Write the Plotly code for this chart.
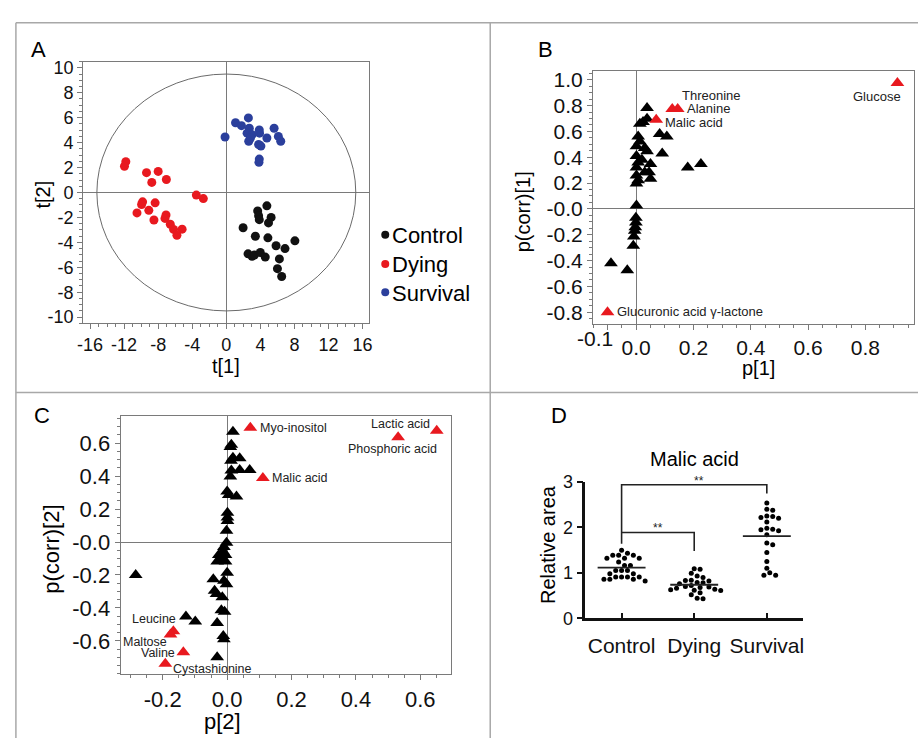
import numpy as np
import plotly.graph_objects as go

# ---------------- Panel A : PCA score plot ----------------
control_t1 = [4.76, 3.68, 3.79, 3.87, 5.26, 4.95, 1.97, 3.41, 4.88, 8.05, 5.84, 6.89, 2.55, 3.02, 3.29, 3.99, 4.57, 6.23, 6.00, 6.50]
control_t2 = [-1.07, -1.48, -1.87, -2.18, -2.00, -2.44, -2.83, -3.51, -3.64, -3.88, -4.27, -4.50, -4.92, -5.12, -5.02, -4.81, -5.18, -5.33, -6.11, -6.74]
dying_t1 = [-11.80, -11.96, -9.37, -8.00, -8.75, -7.04, -3.52, -2.70, -9.83, -9.95, -8.36, -10.49, -9.10, -8.50, -7.08, -7.20, -6.58, -6.19, -5.19, -5.80]
dying_t2 = [2.47, 2.10, 1.59, 1.69, 0.81, 1.04, -0.21, -0.49, -0.75, -0.96, -0.83, -1.64, -1.43, -2.21, -1.80, -2.08, -2.55, -2.96, -2.94, -3.43]
survival_t1 = [-0.15, 1.08, 1.78, 2.59, 2.70, 2.44, 3.02, 2.63, 3.87, 3.90, 4.76, 5.61, 6.11, 6.39, 3.79, 4.06, 3.87, 3.83, 2.83]
survival_t2 = [4.45, 5.59, 5.36, 5.98, 5.15, 4.76, 4.63, 4.11, 5.02, 4.76, 4.37, 5.15, 4.50, 4.11, 3.85, 3.72, 2.68, 2.42, 4.37]
hotelling_t1 = 15.2
hotelling_t2 = 9.5
group_names = ["Control", "Dying", "Survival"]
group_colors = ["#111111", "#e8191f", "#2b3f9c"]

# ---------------- Panel B : S-plot component 1 ----------------
b_p1 = [0.038, 0.024, 0.038, 0.013, 0.082, 0.107, 0.091, 0.180, 0.226,
        0.007, 0.013, 0.001, 0.030, 0.038, 0.001, 0.007, 0.001, 0.050, 0.045,
        0.001, 0.007, 0.050, 0.001, 0.030, 0.020, 0.001,
        -0.001, -0.001, -0.003, -0.005, -0.008, -0.010, -0.088, -0.031]
b_pcorr1 = [0.781, 0.673, 0.698, 0.660, 0.580, 0.560, 0.430, 0.321, 0.347,
            0.560, 0.522, 0.485, 0.472, 0.447, 0.409, 0.359, 0.321, 0.347, 0.283,
            0.259, 0.221, 0.234, 0.196, 0.283, 0.380, 0.027,
            -0.068, -0.106, -0.143, -0.169, -0.214, -0.286, -0.420, -0.475]
b_names = ["Glucose", "Threonine", "Alanine", "Malic acid", "Glucuronic acid \u03b3-lactone"]
b_red_p1 = [0.912, 0.126, 0.145, 0.070, -0.100]
b_red_pcorr1 = [0.975, 0.773, 0.773, 0.690, -0.800]

# ---------------- Panel C : S-plot component 2 ----------------
c_p2 = [0.018, 0.013, 0.010, 0.018, 0.039, 0.012, 0.013, 0.039, 0.070, 0.010,
        0.000, 0.005, 0.029, 0.001, 0.001, 0.001, -0.002, -0.002, -0.012,
        -0.010, -0.026, -0.005, -0.031, -0.005, -0.018, 0.000, -0.043, -0.010,
        -0.002, -0.039, -0.033, -0.015, -0.018, -0.008, -0.031, -0.012, -0.010,
        -0.031, -0.128, -0.099, -0.284]
c_pcorr2 = [0.670, 0.591, 0.576, 0.512, 0.508, 0.493, 0.434, 0.437, 0.437, 0.398,
            0.306, 0.286, 0.276, 0.177, 0.148, 0.128, 0.069, -0.004, -0.059,
            -0.030, -0.079, -0.079, -0.118, -0.118, -0.110, -0.187, -0.226, -0.236,
            -0.256, -0.296, -0.315, -0.335, -0.414, -0.423, -0.492, -0.571, -0.591,
            -0.699, -0.453, -0.483, -0.201]
c_names = ["Myo-inositol", "Lactic acid", "Phosphoric acid", "Malic acid",
           "Leucine", "Maltose", "Valine", "Cystashionine"]
c_red_p2 = [0.072, 0.651, 0.531, 0.111, -0.167, -0.176, -0.136, -0.192]
c_red_pcorr2 = [0.694, 0.676, 0.636, 0.388, -0.542, -0.562, -0.670, -0.739]

# ---------------- Panel D : Malic acid relative area ----------------
d_control = [1.50, 1.43, 1.39, 1.39, 1.39, 1.32, 1.32, 1.32, 1.24, 1.16, 1.16, 1.05,
             1.05, 1.05, 0.98, 0.98, 0.91, 0.91, 0.91, 0.91, 0.86, 0.86, 0.86, 0.82]
d_dying = [1.09, 1.08, 0.99, 0.93, 0.90, 0.84, 0.83, 0.82, 0.79, 0.78, 0.76, 0.72,
           0.70, 0.69, 0.68, 0.66, 0.64, 0.63, 0.62, 0.61, 0.56, 0.52, 0.44, 0.43]
d_survival = [2.54, 2.40, 2.38, 2.25, 2.24, 2.22, 2.20, 2.12, 1.98, 1.96, 1.95,
              1.93, 1.84, 1.66, 1.62, 1.45, 1.25, 1.10, 1.00, 0.95, 0.95]
d_brackets = [  # (x_left, x_right, y_bar, y_left_end, y_right_end)
    (0, 2, 2.94, 1.64, 2.75),
    (0, 1, 1.89, 1.89, 1.48),
]
d_stars = [(1.07, 2.94, "**"), (0.5, 1.89, "**")]

W, H = 921, 748
SANS = "Liberation Sans, Arial, sans-serif"
GRAY = "#7a7a7a"


def px(x):
    return x / W


def py(y):
    return 1 - y / H


def beeswarm(vals, center, x_scale=73.3, y_scale=46.7, d=5.4):
    vals = np.asarray(vals, dtype=float)
    order = np.argsort(-vals)
    placed = []
    xs = np.zeros(len(vals))
    for i in order:
        yy = vals[i] * y_scale
        k = 0
        while True:
            cands = [0.0] if k == 0 else [k * d * 0.55, -k * d * 0.55]
            ok = None
            for c in cands:
                if all((c - a) ** 2 + (yy - b) ** 2 >= d * d for a, b in placed):
                    ok = c
                    break
            if ok is not None:
                placed.append((ok, yy))
                xs[i] = center + ok / x_scale
                break
            k += 1
    return xs


fig = go.Figure()

# ---- Panel A traces
for name, col, tx, ty in zip(group_names, group_colors,
                             [control_t1, dying_t1, survival_t1],
                             [control_t2, dying_t2, survival_t2]):
    fig.add_trace(go.Scatter(x=tx, y=ty, mode="markers", name=name, showlegend=False,
                             marker=dict(color=col, size=9, line=dict(width=0)),
                             xaxis="x", yaxis="y"))

# ---- Panel B traces
fig.add_trace(go.Scatter(x=b_p1, y=b_pcorr1, mode="markers", showlegend=False,
                         marker=dict(symbol="triangle-up", color="black", size=12, line=dict(width=0)),
                         xaxis="x2", yaxis="y2"))
fig.add_trace(go.Scatter(x=b_red_p1, y=b_red_pcorr1, mode="markers", showlegend=False,
                         marker=dict(symbol="triangle-up", color="#e8191f", size=12, line=dict(width=0)),
                         xaxis="x2", yaxis="y2"))

# ---- Panel C traces
fig.add_trace(go.Scatter(x=c_p2, y=c_pcorr2, mode="markers", showlegend=False,
                         marker=dict(symbol="triangle-up", color="black", size=12, line=dict(width=0)),
                         xaxis="x3", yaxis="y3"))
fig.add_trace(go.Scatter(x=c_red_p2, y=c_red_pcorr2, mode="markers", showlegend=False,
                         marker=dict(symbol="triangle-up", color="#e8191f", size=12, line=dict(width=0)),
                         xaxis="x3", yaxis="y3"))

# ---- Panel D traces
for gi, vals in enumerate([d_control, d_dying, d_survival]):
    fig.add_trace(go.Scatter(x=beeswarm(vals, gi), y=vals, mode="markers", showlegend=False,
                             marker=dict(color="black", size=5, line=dict(width=0)),
                             xaxis="x4", yaxis="y4"))
    m = float(np.mean(vals))
    fig.add_trace(go.Scatter(x=[gi - 0.33, gi + 0.33], y=[m, m], mode="lines", showlegend=False,
                             line=dict(color="#222222", width=1.8), xaxis="x4", yaxis="y4"))
for xl, xr, yb, yl, yr in d_brackets:
    fig.add_trace(go.Scatter(x=[xl, xl, xr, xr], y=[yl, yb, yb, yr], mode="lines", showlegend=False,
                             line=dict(color="#222222", width=1.6), xaxis="x4", yaxis="y4"))

annotations = []
shapes = []

# Hotelling ellipse
shapes.append(dict(type="circle", xref="x", yref="y", x0=-hotelling_t1, x1=hotelling_t1,
                   y0=-hotelling_t2, y1=hotelling_t2, line=dict(color="#6a6a6a", width=1)))

# panel borders
for (x0, y0, x1, y1) in [(10, 13, 921, 13), (10, 13, 10, 748), (489, 13, 489, 748), (10, 393, 921, 393)]:
    shapes.append(dict(type="line", xref="paper", yref="paper", x0=px(x0), y0=py(y0), x1=px(x1), y1=py(y1),
                       line=dict(color="#a8a8a8", width=1.5)))

# legend of panel A
for i, (name, col) in enumerate(zip(group_names, group_colors)):
    yc = [232, 262, 291][i]
    shapes.append(dict(type="circle", xref="paper", yref="paper", xsizemode="pixel", ysizemode="pixel",
                       xanchor=px(383), yanchor=py(yc - 1), x0=-4, x1=4, y0=-4, y1=4,
                       fillcolor=col, line=dict(width=0)))
    annotations.append(dict(text=name, xref="paper", yref="paper", x=px(388), y=py(yc), xanchor="left",
                            yanchor="middle", showarrow=False, font=dict(family=SANS, size=22, color="black")))

# panel letters
for letter, (lx, ly) in zip("ABCD", [(33, 41), (545, 41), (36, 417), (558, 417)]):
    annotations.append(dict(text=letter, xref="paper", yref="paper", x=px(lx), y=py(ly), xanchor="center",
                            yanchor="middle", showarrow=False, font=dict(family=SANS, size=22, color="black")))

# axis titles
axis_titles = [
    ("t[1]", 222, 366, 0, 20),
    ("t[2]", 37, 190, -90, 20),
    ("p[1]", 760, 368, 0, 20),
    ("p(corr)[1]", 523, 207, -90, 20),
    ("p[2]", 219, 731, 0, 22),
    ("p(corr)[2]", 46, 554, -90, 22),
    ("Relative area", 548, 549, -90, 20),
    ("Malic acid", 695, 461, 0, 20),
]
for t, ax, ay, ang, fs in axis_titles:
    annotations.append(dict(text=t, xref="paper", yref="paper", x=px(ax), y=py(ay), xanchor="center",
                            yanchor="middle", textangle=ang, showarrow=False,
                            font=dict(family=SANS, size=fs, color="black")))

# crowded "-0.1" tick label of panel B, shifted left as in the original
annotations.append(dict(text="-0.1", xref="x2", yref="paper", x=-0.1, y=py(338), xanchor="center",
                        yanchor="middle", xshift=-13, showarrow=False,
                        font=dict(family=SANS, size=21, color="#111111")))

# labels for panel B
b_label_pos = {
    "Glucose": ("right", 6, -13),
    "Threonine": ("left", 8, 14),
    "Alanine": ("left", 7, 1),
    "Malic acid": ("left", 7, -3),
    "Glucuronic acid \u03b3-lactone": ("left", 7, 1),
}
for n, x, y in zip(b_names, b_red_p1, b_red_pcorr1):
    anc, xs, ys = b_label_pos[n]
    annotations.append(dict(text=n, xref="x2", yref="y2", x=x, y=y, xanchor=anc, yanchor="middle",
                            xshift=xs, yshift=ys, showarrow=False,
                            font=dict(family=SANS, size=13, color="#222222")))

# labels for panel C
c_label_pos = {
    "Myo-inositol": ("left", 8, 0),
    "Lactic acid": ("right", -5, 7),
    "Phosphoric acid": ("center", -6, -12),
    "Malic acid": ("left", 7, 0),
    "Leucine": ("right", 5, 12),
    "Maltose": ("right", -1, -7),
    "Valine": ("right", -6, -1),
    "Cystashionine": ("left", 6, -5),
}
for n, x, y in zip(c_names, c_red_p2, c_red_pcorr2):
    anc, xs, ys = c_label_pos[n]
    annotations.append(dict(text=n, xref="x3", yref="y3", x=x, y=y, xanchor=anc, yanchor="middle",
                            xshift=xs, yshift=ys, showarrow=False,
                            font=dict(family=SANS, size=12.5, color="#222222")))

# stars panel D
for sx, sy, st in d_stars:
    annotations.append(dict(text=st, xref="x4", yref="y4", x=sx, y=sy, xanchor="center", yanchor="middle",
                            yshift=4, showarrow=False, font=dict(family=SANS, size=12, color="#222222")))


def box_axis(domain, rng, tickvals, ticktext, minor_dtick, fontsize, anchor):
    return dict(domain=domain, range=rng, anchor=anchor, showgrid=False, zeroline=True,
                zerolinecolor=GRAY, zerolinewidth=1, showline=True, mirror=True, linecolor=GRAY,
                linewidth=1, ticks="outside", ticklen=5, tickcolor=GRAY, tickwidth=1,
                tickvals=tickvals, ticktext=ticktext, tickangle=0,
                minor=dict(ticks="outside", ticklen=3, tickcolor=GRAY, dtick=minor_dtick, showgrid=False),
                tickfont=dict(family=SANS, size=fontsize, color="#111111"), fixedrange=True)


a_xt = list(range(-16, 17, 4))
a_yt = list(range(-10, 11, 2))
b_xt = [-0.1, 0.0, 0.2, 0.4, 0.6, 0.8]
b_yt = [-0.8, -0.6, -0.4, -0.2, 0.0, 0.2, 0.4, 0.6, 0.8, 1.0]
c_xt = [-0.2, 0.0, 0.2, 0.4, 0.6]
c_yt = [-0.6, -0.4, -0.2, 0.0, 0.2, 0.4, 0.6]


def fmt(v):
    return "-0.0" if abs(v) < 1e-9 else f"{v:.1f}"


layout = dict(
    width=W, height=H, autosize=False, margin=dict(l=0, r=0, t=0, b=0),
    paper_bgcolor="white", plot_bgcolor="white", showlegend=False,
    xaxis=box_axis([px(78), px(367)], [-16.8, 16.8], a_xt, [str(v) for v in a_xt], 1, 18, "y"),
    yaxis=box_axis([py(322), py(53)], [-10.5, 10.5], a_yt, [str(v) for v in a_yt], 0.5, 18, "x"),
    xaxis2=box_axis([px(592.7), px(916.7)], [-0.151, 0.969], b_xt,
                    ["", "0.0", "0.2", "0.4", "0.6", "0.8"], 0.05, 21, "y2"),
    yaxis2=box_axis([py(322.7), py(62.7)], [-0.892, 1.068], b_yt, [fmt(v) for v in b_yt], 0.05, 21, "x2"),
    xaxis3=box_axis([px(115.7), px(449.3)], [-0.331, 0.695], c_xt,
                    ["-0.2", "0.0", "0.2", "0.4", "0.6"], 0.05, 22, "y3"),
    yaxis3=box_axis([py(682.7), py(417.3)], [-0.804, 0.764], c_yt, [fmt(v) for v in c_yt], 0.05, 22, "x3"),
    xaxis4=dict(domain=[px(585), px(805)], range=[-0.5, 2.5], anchor="y4", showgrid=False, zeroline=False,
                showline=True, linecolor="#111111", linewidth=2.5, ticks="inside", ticklen=6, tickwidth=2,
                tickcolor="#111111", tickvals=[0, 1, 2], ticktext=group_names, tickangle=0,
                ticklabelstandoff=7,
                tickfont=dict(family=SANS, size=21, color="#111111"), fixedrange=True),
    yaxis4=dict(domain=[py(625), py(485)], range=[0, 3], anchor="x4", showgrid=False, zeroline=False,
                showline=True, linecolor="#111111", linewidth=2.5, ticks="outside", ticklen=6, tickwidth=2,
                tickcolor="#111111", tickvals=[0, 1, 2, 3], ticktext=["0", "1", "2", "3"],
                tickfont=dict(family=SANS, size=18, color="#111111"), fixedrange=True),
    shapes=shapes, annotations=annotations,
)
fig.update_layout(**layout)
fig.write_html("out.html", config={"responsive": False},
               post_script="document.body.style.margin='0';document.body.style.overflow='hidden';")
